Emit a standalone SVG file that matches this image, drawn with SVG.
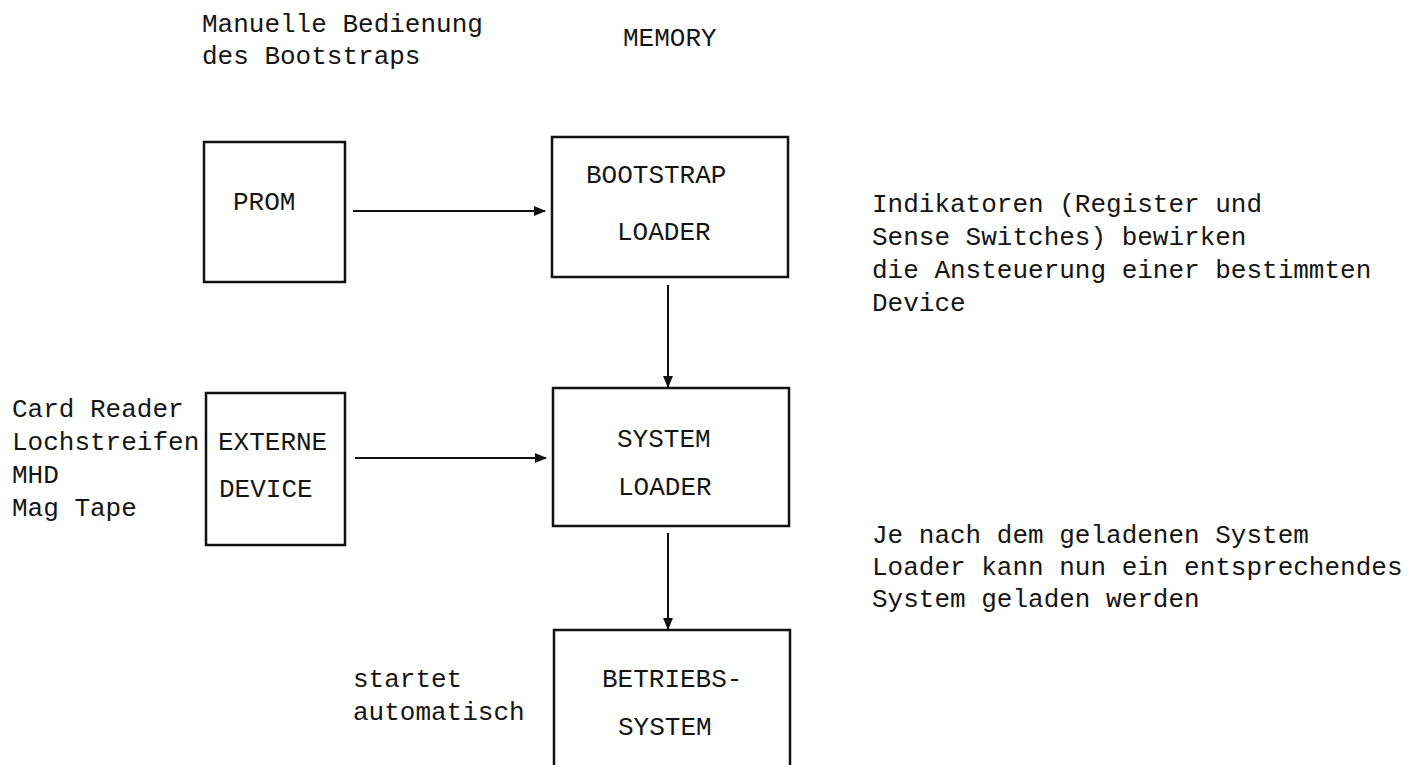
<svg xmlns="http://www.w3.org/2000/svg" width="1427" height="765" viewBox="0 0 1427 765">
<style>
text{font-family:"Liberation Mono","DejaVu Sans Mono",monospace;font-size:26px;fill:#151515}
.box{fill:none;stroke:#111;stroke-width:2.5}
.con{stroke:#111;stroke-width:2;fill:none}
</style>
<defs>
<marker id="ah" viewBox="0 0 12 10" refX="11" refY="5" markerWidth="12" markerHeight="10" markerUnits="userSpaceOnUse" orient="auto">
<path d="M0,0 L12,5 L0,10 z" fill="#111"/>
</marker>
</defs>
<rect width="1427" height="765" fill="#fff"/>
<g id="notes">
<text x="202" y="32">Manuelle Bedienung</text>
<text x="202" y="64">des Bootstraps</text>
<text x="623" y="46">MEMORY</text>
<text x="12" y="417">Card Reader</text>
<text x="12" y="450">Lochstreifen</text>
<text x="12" y="483">MHD</text>
<text x="12" y="516">Mag Tape</text>
<text x="872" y="212">Indikatoren (Register und</text>
<text x="872" y="245">Sense Switches) bewirken</text>
<text x="872" y="278">die Ansteuerung einer bestimmten</text>
<text x="872" y="311">Device</text>
<text x="872" y="543">Je nach dem geladenen System</text>
<text x="872" y="575">Loader kann nun ein entsprechendes</text>
<text x="872" y="607">System geladen werden</text>
<text x="353" y="687">startet</text>
<text x="353" y="720">automatisch</text>
</g>
<g id="prom">
<rect class="box" x="204" y="142" width="141" height="140"/>
<text x="233" y="210">PROM</text>
</g>
<g id="bootstrap-loader">
<rect class="box" x="552" y="137" width="236" height="140"/>
<text x="586" y="183">BOOTSTRAP</text>
<text x="617" y="240">LOADER</text>
</g>
<g id="externe-device">
<rect class="box" x="206" y="393" width="139" height="152"/>
<text x="218" y="450">EXTERNE</text>
<text x="219" y="497">DEVICE</text>
</g>
<g id="system-loader">
<rect class="box" x="553" y="388" width="236" height="138"/>
<text x="617" y="447">SYSTEM</text>
<text x="618" y="495">LOADER</text>
</g>
<g id="betriebssystem">
<rect class="box" x="554" y="630" width="236" height="160"/>
<text x="602" y="687">BETRIEBS-</text>
<text x="618" y="735">SYSTEM</text>
</g>
<g id="connectors">
<line class="con" x1="353" y1="211" x2="545" y2="211" marker-end="url(#ah)"/>
<line class="con" x1="668" y1="285" x2="668" y2="387" marker-end="url(#ah)"/>
<line class="con" x1="355" y1="458" x2="546" y2="458" marker-end="url(#ah)"/>
<line class="con" x1="668" y1="533" x2="668" y2="629" marker-end="url(#ah)"/>
</g>
</svg>
